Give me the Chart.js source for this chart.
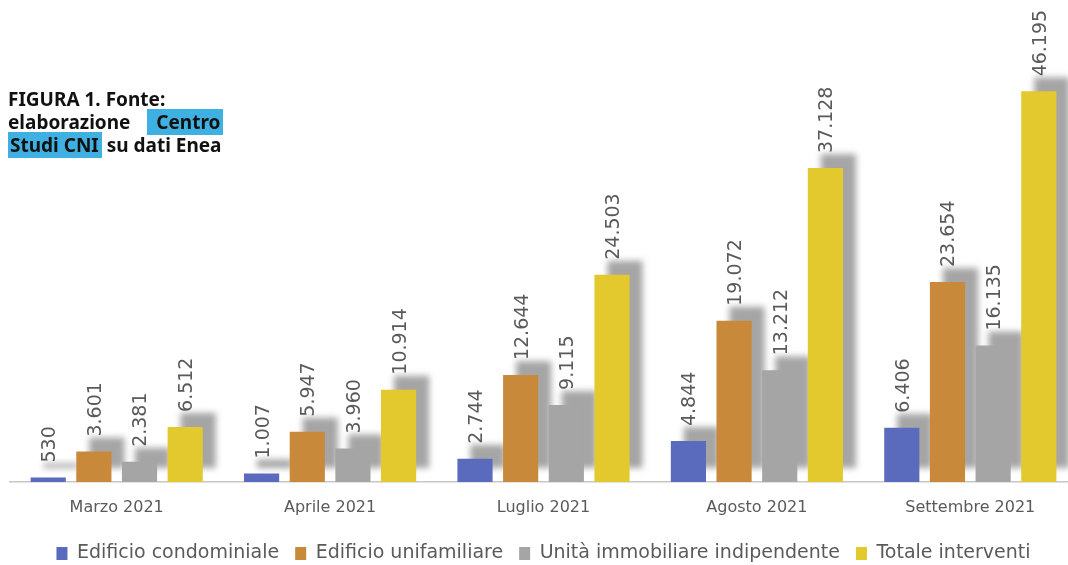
<!DOCTYPE html>
<html>
<head>
<meta charset="utf-8">
<script src="https://cdn.jsdelivr.net/npm/chart.js@4.4.1/dist/chart.umd.min.js"></script>
<style>
  html, body { margin: 0; padding: 0; background: #fff; overflow: hidden; }
  #wrap { position: relative; width: 1078px; height: 573px; }
  #note {
    position: absolute; left: 8px; top: 88px;
    font-family: "Noto Sans", sans-serif; font-weight: bold; font-size: 19px;
    line-height: 23px; color: #111; letter-spacing: 0;
  }
  #note .hl { background: #3eb1e2; padding: 0 3px 0 2px; }
</style>
</head>
<body>
<div id="wrap">
  <canvas id="myChart"></canvas>
  <div id="note">
    <div>FIGURA 1. Fonte:</div>
    <div>elaborazione <span class="hl" style="margin-left:12px;padding-left:9px">Centro</span></div>
    <div><span class="hl">Studi CNI</span> su dati Enea</div>
  </div>
</div>
<script>
const categories = ["Marzo 2021", "Aprile 2021", "Luglio 2021", "Agosto 2021", "Settembre 2021"];
const seriesNames = ["Edificio condominiale", "Edificio unifamiliare", "Unità immobiliare indipendente", "Totale interventi"];
const condominiale = [530, 1007, 2744, 4844, 6406];
const unifamiliare = [3601, 5947, 12644, 19072, 23654];
const indipendente = [2381, 3960, 9115, 13212, 16135];
const totale = [6512, 10914, 24503, 37128, 46195];
const colors = ["#5a6bbd", "#c8893b", "#a5a5a5", "#e3c82e"];

function formatIt(v) {
  return String(v).replace(/\B(?=(\d{3})+(?!\d))/g, ".");
}

// gray blurred shadow behind every bar, offset up-right
const shadowPlugin = {
  id: "barShadow",
  beforeDatasetsDraw(chart) {
    const ctx = chart.ctx;
    ctx.save();
    ctx.filter = "blur(3px)";
    ctx.fillStyle = "rgba(155,155,155,0.9)";
    chart.data.datasets.forEach((ds, i) => {
      chart.getDatasetMeta(i).data.forEach((bar) => {
        const p = bar.getProps(["x", "y", "base", "width"], true);
        ctx.fillRect(p.x - p.width / 2 + 13, p.y - 14, p.width, p.base - p.y);
      });
    });
    ctx.restore();
  }
};

const labelPlugin = {
  id: "rotLabels",
  afterDatasetsDraw(chart) {
    const ctx = chart.ctx;
    ctx.save();
    ctx.font = "19px 'DejaVu Sans'";
    ctx.fillStyle = "#5a5a5a";
    ctx.textAlign = "left";
    ctx.textBaseline = "middle";
    chart.data.datasets.forEach((ds, i) => {
      chart.getDatasetMeta(i).data.forEach((bar, j) => {
        const p = bar.getProps(["x", "y"], true);
        ctx.save();
        ctx.translate(p.x + 2, p.y - 15);
        ctx.rotate(-Math.PI / 2);
        ctx.fillText(formatIt(ds.data[j]), 0, 0);
        ctx.restore();
      });
    });
    ctx.restore();
  }
};

const ctx = document.getElementById("myChart").getContext("2d");
const chart = new Chart(ctx, {
  type: "bar",
  data: {
    labels: categories,
    datasets: [condominiale, unifamiliare, indipendente, totale].map((d, i) => ({
      label: seriesNames[i],
      data: d,
      backgroundColor: colors[i],
      categoryPercentage: 0.856,
      barPercentage: 0.77
    }))
  },
  options: {
    responsive: true,
    maintainAspectRatio: false,
    animation: false,
    layout: { padding: { left: 10, right: 1, top: 0, bottom: 0 } },
    plugins: {
      tooltip: { enabled: false },
      legend: {
        position: "bottom",
        labels: {
          color: "#5a5a5a",
          font: { family: "DejaVu Sans", size: 19 },
          boxWidth: 11,
          boxHeight: 13,
          padding: 16
        }
      }
    },
    scales: {
      x: {
        grid: { display: false, drawTicks: false },
        border: { display: true, color: "#c8c8c8", width: 1.5 },
        ticks: { color: "#5a5a5a", font: { family: "DejaVu Sans", size: 16 }, padding: 16 },
        afterFit(scale) { scale.height = 46; }
      },
      y: {
        display: false,
        min: 0,
        max: 57000
      }
    }
  },
  plugins: [shadowPlugin, labelPlugin]
});
</script>
</body>
</html>
